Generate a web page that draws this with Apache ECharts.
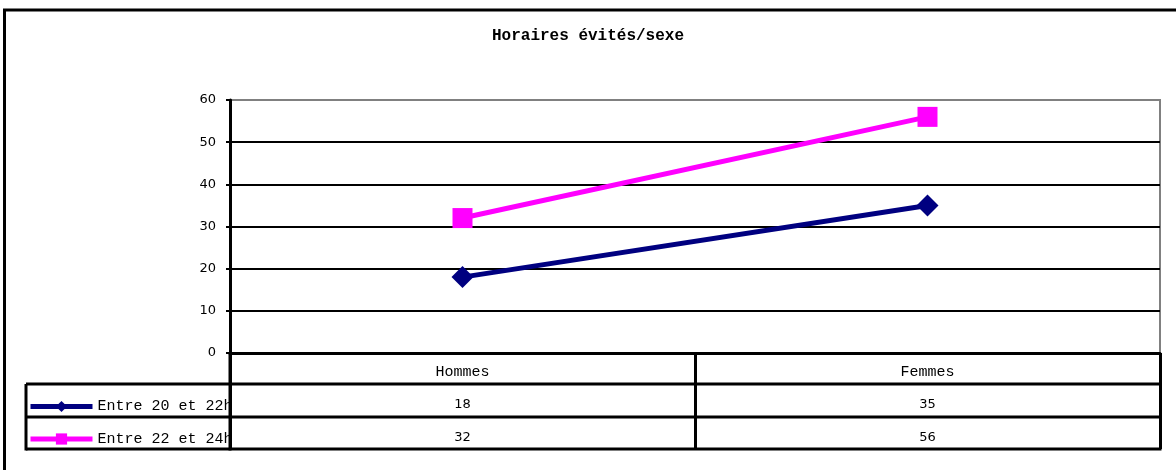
<!DOCTYPE html>
<html><head><meta charset="utf-8">
<script src="https://cdn.jsdelivr.net/npm/echarts@6/dist/echarts.min.js"></script>
<style>html,body{margin:0;padding:0;background:#fff}#c{width:1176px;height:470px}</style>
</head><body><div id="c"></div>
<script>
const titleText = 'Horaires évités/sexe';
const categories = ['Hommes', 'Femmes'];
const seriesNames = ['Entre 20 et 22h', 'Entre 22 et 24h'];
const serie2022 = [18, 35];
const serie2224 = [32, 56];
const yTicks = [0, 10, 20, 30, 40, 50, 60];

const mono = '"Liberation Mono", "Courier New", monospace';
const sans = '"DejaVu Sans", Verdana, sans-serif';
const chart = echarts.init(document.getElementById('c'), null, {renderer: 'canvas'});
const seriesData = [serie2022, serie2224];
const colors = ['#000080', '#FF00FF'];
const symbols = ['diamond', 'rect'];
const symSizes = [22, 20];

chart.setOption({
  animation: false,
  backgroundColor: '#fff',
  title: {text: titleText, left: 'center', top: 28, padding: 0,
    textStyle: {fontFamily: mono, fontWeight: 'bold', fontSize: 16, color: '#000'}},
  grid: {left: 230, right: 16, top: 100, bottom: 117, show: true, borderColor: '#808080', borderWidth: 2, containLabel: false},
  legend: {orient: 'vertical', left: 28, top: 399, padding: 0, itemWidth: 62, itemHeight: 14, itemGap: 17.5, itemTextGap: 4,
    lineStyle: {width: 5}, itemStyle: {borderWidth: 0},
    textStyle: {fontFamily: mono, fontSize: 15, color: '#000', padding: [0, 0, 0, 0]}, selectedMode: false,
    data: seriesNames},
  xAxis: {type: 'category', data: categories, boundaryGap: true,
    axisLine: {lineStyle: {color: '#000', width: 3}},
    axisTick: {show: true, interval: 0, length: 96, inside: false, lineStyle: {color: '#000', width: 3}},
    axisLabel: {margin: 12, fontFamily: mono, fontSize: 15, color: '#000'},
    splitLine: {show: false}},
  yAxis: {type: 'value', min: yTicks[0], max: yTicks[yTicks.length - 1], interval: 10,
    axisLine: {show: true, lineStyle: {color: '#000', width: 3}},
    axisTick: {show: true, length: 4, lineStyle: {color: '#000', width: 2}},
    axisLabel: {margin: 14, fontFamily: sans, fontSize: 13, color: '#000'},
    splitLine: {show: true, showMaxLine: false, showMinLine: false, lineStyle: {color: '#000', width: 2}}},
  series: seriesNames.map((n, i) => ({
    name: n, type: 'line', data: seriesData[i], symbol: symbols[i], symbolSize: symSizes[i],
    itemStyle: {color: colors[i]}, lineStyle: {color: colors[i], width: 5}, z: 5
  }))
});

function buildTable() {
  const step = chart.convertToPixel({xAxisIndex: 0}, 1) - chart.convertToPixel({xAxisIndex: 0}, 0);
  const yAxisX = chart.convertToPixel({xAxisIndex: 0}, 0) - step / 2;
  const rightX = yAxisX + step * categories.length;
  const baseY = chart.convertToPixel({yAxisIndex: 0}, 0);
  const rowLines = [baseY + 31, baseY + 64, baseY + 96];
  const rowCenters = [baseY + 52, baseY + 85];
  const tableLeft = 26;
  const els = [];
  els.push({type: 'rect', shape: {x: 4.5, y: 10, width: 1200, height: 500}, style: {fill: 'none', stroke: '#000', lineWidth: 3}, z: 50});
  rowLines.forEach(y => els.push({type: 'line', shape: {x1: tableLeft, y1: y, x2: rightX + 1.5, y2: y}, style: {stroke: '#000', lineWidth: 3}, z: 50}));
  els.push({type: 'line', shape: {x1: tableLeft, y1: rowLines[0], x2: tableLeft, y2: rowLines[2] + 1.5}, style: {stroke: '#000', lineWidth: 3}, z: 50});
  els.push({type: 'line', shape: {x1: yAxisX, y1: baseY, x2: yAxisX, y2: rowLines[2] + 1.5}, style: {stroke: '#000', lineWidth: 3}, z: 50});
  seriesData.forEach((arr, r) => {
    arr.forEach((v, c) => {
      const x = chart.convertToPixel({xAxisIndex: 0}, c);
      els.push({type: 'text', x: x, y: rowCenters[r], style: {text: String(v), fontFamily: sans, fontSize: 13, fill: '#000', align: 'center', verticalAlign: 'middle'}, z: 50});
    });
  });
  chart.setOption({graphic: els});
}
buildTable();
</script></body></html>
